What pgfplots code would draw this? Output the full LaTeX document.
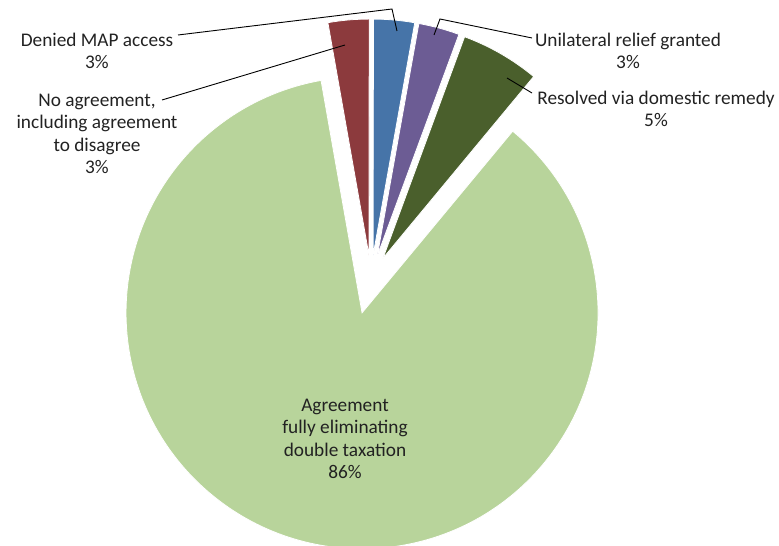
\documentclass[border=0pt]{standalone}
\usepackage{pgfplots}
\pgfplotsset{compat=1.18}
\usepackage{fontspec}
\setmainfont{Carlito}
\definecolor{cRed}{HTML}{8C3A3D}
\definecolor{cBlue}{HTML}{4674A8}
\definecolor{cPurple}{HTML}{6C5C94}
\definecolor{cDark}{HTML}{4A5F2C}
\definecolor{cLight}{HTML}{B8D49B}
\definecolor{txt}{HTML}{222222}
% data: share of cases (percent), clockwise from the slice left of 12 o'clock
\def\cum{-2.78}
\newcommand\pieslice[4]{% #1 value, #2 explode, #3 colour, #4 radius
  \pgfmathsetmacro\aA{90-3.6*(\cum)}%
  \pgfmathsetmacro\aB{90-3.6*(\cum+#1)}%
  \pgfmathsetmacro\aM{(\aA+\aB)/2}%
  \pgfmathsetmacro\px{371+(#2)*cos(\aM)}%
  \pgfmathsetmacro\py{267+(#2)*sin(\aM)}%
  \pgfmathsetmacro\newcum{\cum+#1}%
  \global\let\cum\newcum
  \edef\tmp{\noexpand\fill[#3, draw=white, line width=0.8pt] (axis cs:\px,\py) -- ++(\aA:#4pt) arc[start angle=\aA, end angle=\aB, radius=#4pt] -- cycle;}%
  \tmp
}
\begin{document}
\begin{tikzpicture}
\begin{axis}[x=1pt, y=1pt, xmin=0, xmax=779, ymin=0, ymax=546,
  hide axis, clip=false, scale only axis]
\coordinate (SW) at (axis cs:0,0);
\coordinate (NE) at (axis cs:779,546);
\pieslice{2.8}{24}{cRed}{236}
\pieslice{2.8}{24}{cBlue}{236}
\pieslice{2.8}{24}{cPurple}{236}
\pieslice{5.4}{24}{cDark}{236}
\pieslice{86.2}{35}{cLight}{236}
% leader lines
\draw[line width=0.9pt, black] (axis cs:178,511) -- (axis cs:392,537) -- (axis cs:397,515);
\draw[line width=0.9pt, black] (axis cs:162,446) -- (axis cs:345,501);
\draw[line width=0.9pt, black] (axis cs:532,508) -- (axis cs:440,527) -- (axis cs:434,511);
\draw[line width=0.9pt, black] (axis cs:507,468) -- (axis cs:532,453);
% labels
\tikzset{lab/.style={align=center, text=txt, inner sep=0pt, font=\fontsize{19.3}{22.5}\selectfont}}
\node[lab] at (axis cs:97,495) {Denied MAP access\\3\%};
\node[lab] at (axis cs:97,412) {No agreement,\\including agreement\\to disagree\\3\%};
\node[lab] at (axis cs:628,495) {Unilateral relief granted\\3\%};
\node[lab] at (axis cs:656,437) {Resolved via domestic remedy\\5\%};
\node[lab] at (axis cs:345,107) {Agreement\\fully eliminating\\double taxation\\86\%};
\end{axis}
\pgfresetboundingbox
\path[use as bounding box] (SW) rectangle (NE);
\end{tikzpicture}
\end{document}
